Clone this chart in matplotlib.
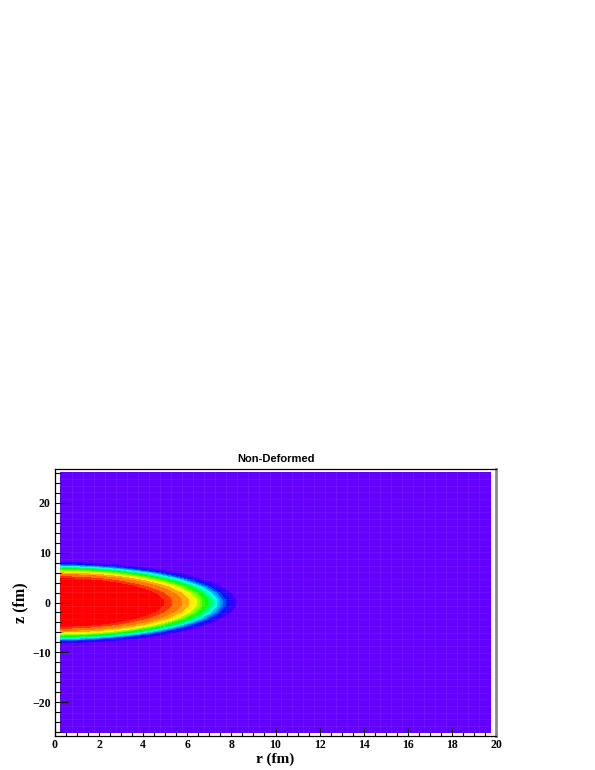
import numpy as np
import matplotlib
matplotlib.use("Agg")
import matplotlib.pyplot as plt
from matplotlib.ticker import MultipleLocator

# ---- data ----
title = "Non-Deformed"
x_label = "r (fm)"
y_label = "z (fm)"
# histogram binning (40 x 40)
r_range = (0.0, 20.0)
z_range = (-26.8, 26.8)
n_r_bins = 40
n_z_bins = 40
# radii (fm) where the colour changes, from the centre outwards (spherical density)
band_radii = [5.00, 5.38, 5.83, 6.14, 6.35, 6.50, 6.62, 6.74, 6.87, 7.00,
              7.12, 7.20, 7.30, 7.42, 7.54, 7.65, 7.80, 7.95, 8.26]
# ROOT pretty palette colours, innermost (highest density) to outermost
band_colors = ["#ff0000", "#ff2f00", "#ff7700", "#ffa700", "#ffee00", "#e6ff00",
               "#99ff00", "#69ff00", "#22ff00", "#00ff0e", "#00ff55", "#00ff85",
               "#00ffcc", "#00fffc", "#00bbff", "#008bff", "#0044ff", "#0014ff",
               "#3300ff", "#6300ff"]

# ---- figure ----
W, H = 595, 770
fig = plt.figure(figsize=(W / 100, H / 100), dpi=100)
fig.patch.set_facecolor("white")
ax = fig.add_axes([55 / W, 34 / H, 441 / W, 267 / H])

r_edges = np.linspace(r_range[0], r_range[1], n_r_bins + 1)
z_edges = np.linspace(z_range[0], z_range[1], n_z_bins + 1)
rc = 0.5 * (r_edges[:-1] + r_edges[1:])
zc = 0.5 * (z_edges[:-1] + z_edges[1:])
RR, ZZ = np.meshgrid(rc, zc)
dist = np.hypot(RR, ZZ)

levels = [0.0] + band_radii + [1e3]
ax.contourf(rc, zc, dist, levels=levels, colors=band_colors, zorder=1)

# faint cell seams as in the ROOT rendering
for r in rc[1:-1]:
    ax.plot([r, r], [zc[0], zc[-1]], color="white", alpha=0.08, lw=0.6, zorder=1.2)
for z in zc[1:-1]:
    ax.plot([rc[0], rc[-1]], [z, z], color="white", alpha=0.08, lw=0.6, zorder=1.2)

ax.set_xlim(*r_range)
ax.set_ylim(*z_range)
ax.set_facecolor("white")

ax.xaxis.set_major_locator(MultipleLocator(2))
ax.xaxis.set_minor_locator(MultipleLocator(0.5))
ax.yaxis.set_major_locator(MultipleLocator(10))
ax.yaxis.set_minor_locator(MultipleLocator(2))

ax.tick_params(axis="x", which="major", direction="in", length=5.8, width=0.8, pad=2.5,
               top=False, bottom=True)
ax.tick_params(axis="x", which="minor", direction="in", length=2.9, width=0.8,
               top=False, bottom=True)
ax.tick_params(axis="y", which="major", direction="in", length=9, width=0.8, pad=3.2,
               left=True, right=False)
ax.tick_params(axis="y", which="minor", direction="in", length=4.5, width=0.8,
               left=True, right=False)

for lab in ax.get_xticklabels() + ax.get_yticklabels():
    lab.set_fontfamily(["Liberation Serif", "DejaVu Serif"])
    lab.set_fontweight("bold")
    lab.set_fontsize(8.5)

for s in ["left", "bottom", "top"]:
    ax.spines[s].set_color("black")
    ax.spines[s].set_linewidth(0.9)
ax.spines["right"].set_color("#8a8a8a")
ax.spines["right"].set_linewidth(2.0)

fig.text(275.5 / W, 1 - 459 / H, title, ha="center", va="center",
         family=["Liberation Sans", "DejaVu Sans"], weight="bold", fontsize=8)
fig.text(275.5 / W, 1 - 759.5 / H, x_label, ha="center", va="center",
         family=["Liberation Serif", "DejaVu Serif"], weight="bold", fontsize=11)
fig.text(20 / W, 1 - 602.5 / H, y_label, ha="center", va="center", rotation=90,
         family=["Liberation Serif", "DejaVu Serif"], weight="bold", fontsize=11.5)

fig.savefig("out.png", dpi=100, facecolor="white")
